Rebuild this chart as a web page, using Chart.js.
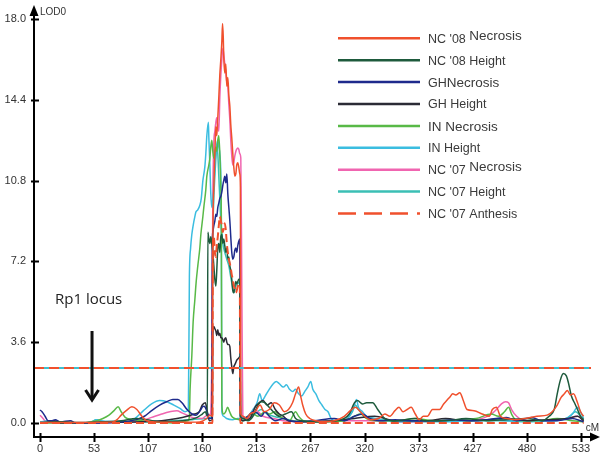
<!DOCTYPE html>
<html><head><meta charset="utf-8">
<script src="https://cdn.jsdelivr.net/npm/chart.js@4"></script>
<style>html,body{margin:0;padding:0;background:#fff}canvas{display:block}</style>
</head><body>
<canvas id="c" width="600" height="468"></canvas>
<script>
// ---- tick labels ----
const xTickValues = [0,53.34,106.68,160.02,213.36,266.7,320.04,373.38,426.72,480.06,533.4];
const xTickLabels = ['0','53','107','160','213','267','320','373','427','480','533'];
const yTickValues = [0,3.6,7.2,10.8,14.4,18];
const yTickLabels = ['0.0','3.6','7.2','10.8','14.4','18.0'];

// ---- series labels / colours ----
const seriesLabels = ["NC '08 Necrosis","NC '08 Height","GHNecrosis","GH Height","IN Necrosis","IN Height","NC '07 Necrosis","NC '07 Height","NC '07 Anthesis"];
const seriesColors = ['#f0502d','#1e5a3c','#1e2a8c','#2b2b35','#58b947','#3bbde0','#f065b0','#3bbfb5','#f0502d'];

// ---- series values: [cM, LOD] ----
const nc08Necrosis = [[0,0.02],[30,0.02],[60,0.03],[72,0.05],[76,0.15],[80,0.35],[85,0.55],[90.6,0.72],[95.5,0.6],[100.5,0.3],[105,0.1],[113,0.05],[140,0.03],[157.6,0.05],[164.5,0.2],[167.5,0.35],[170,0.3],[170.4,7.8],[171.4,10.5],[172.4,12.0],[173.4,13.2],[174.3,12.8],[175.3,13.6],[176.3,14.5],[177.3,15.5],[178.3,16.2],[179.3,17.0],[180.0,17.8],[180.7,17.2],[181.2,16.3],[182.2,15.6],[183.2,16.0],[184.2,15.0],[185.2,15.4],[186.2,14.6],[187.2,14.1],[188.1,13.3],[189.1,12.7],[190.1,12.0],[191.1,11.4],[192.1,11.0],[193.1,11.1],[194,11.5],[195,11.6],[196,11.4],[197,11.1],[197.6,10.5],[198,0.4],[200,0.3],[204,0.2],[207,0.4],[212,0.5],[217,0.8],[221,0.5],[226,0.6],[231,0.9],[236,0.8],[241,0.5],[245,0.6],[249,0.9],[252,1.3],[255,1.6],[257,1.2],[259,0.8],[262,0.4],[266,0.2],[272,0.1],[280,0.05],[290,0.1],[300,0.3],[306,0.55],[311,0.7],[316,0.5],[320,0.3],[326,0.15],[334,0.2],[340,0.4],[345,0.3],[350,0.55],[354,0.7],[358,0.5],[362,0.6],[366,0.7],[370,0.4],[374,0.15],[378,0.3],[382,0.3],[387,0.6],[394,0.6],[398,0.85],[401,1.0],[404,1.15],[407,1.3],[410,1.25],[414,1.35],[417,1.05],[421,0.6],[428,0.55],[436,0.4],[443,0.3],[446,0.6],[450,0.7],[454,0.3],[460,0.2],[468,0.15],[478,0.2],[490,0.3],[500,0.35],[505,0.5],[510,0.8],[514,1.15],[517,1.3],[520,1.45],[523,1.25],[526,1.3],[530,0.9],[533,0.5],[536,0.3]];
const nc08Height = [[0,0.02],[20,0.05],[40,0.02],[60,0.05],[80,0.1],[95,0.2],[105,0.15],[120,0.05],[140,0.1],[155,0.25],[160,0.4],[163,0.5],[165,0.3],[165.5,8.5],[166.5,8.2],[167.5,8.0],[168.4,8.3],[169.4,8.0],[170.4,7.6],[171.4,7.0],[172.4,6.4],[173.4,6.1],[174.3,6.8],[175.3,7.8],[176.3,8.0],[177.3,7.6],[178.3,8.3],[179.3,8.4],[180.3,8.0],[181.2,8.2],[182.2,7.9],[183.2,7.6],[184.2,7.8],[185.2,7.3],[186.2,7.4],[187.2,7.0],[188.1,6.8],[189.1,6.4],[190.1,5.9],[191.1,5.8],[192.1,6.1],[193.1,6.3],[194,6.2],[195,6.3],[196,6.4],[197,6.4],[197.6,0.3],[200,0.2],[205,0.1],[210,0.3],[215,0.8],[218,0.95],[222,0.9],[226,0.7],[230,0.5],[236,0.3],[242,0.4],[248,0.5],[252,0.2],[258,0.1],[270,0.05],[290,0.1],[300,0.2],[305,0.4],[310,0.9],[313,1.0],[318,0.85],[322,0.9],[328,0.9],[333,0.6],[340,0.2],[350,0.1],[370,0.2],[380,0.1],[400,0.1],[420,0.2],[440,0.1],[460,0.15],[480,0.2],[495,0.1],[502,0.3],[507,0.6],[510,1.3],[513,1.9],[516,2.2],[519,2.1],[521,1.8],[524,1.2],[527,0.9],[530,0.6],[533,0.3],[536,0.15]];
const ghNecrosis = [[0,0.58],[2,0.5],[5,0.3],[8,0.1],[12,0.1],[15,0.15],[20,0.05],[30,0.1],[35,0.0],[60,0.0],[80,0.05],[95,0.15],[103,0.3],[110,0.55],[118,0.8],[125,0.95],[131,1.05],[136,1.05],[140,0.9],[145,0.6],[150,0.4],[154,0.35],[158,0.55],[161,0.75],[163,0.7],[165,0.45],[167,0.2],[169.4,0.2],[169.9,8.0],[170.4,8.5],[171.4,8.8],[172.4,9.0],[173.4,9.3],[174.3,9.2],[175.3,9.6],[176.3,9.8],[177.3,10.0],[178.3,10.1],[179.3,10.3],[180.3,10.6],[181.2,10.8],[182.2,11.0],[183.2,10.7],[184.2,11.1],[185.2,10.2],[186.2,9.6],[187.2,9.0],[188.1,8.3],[189.1,7.6],[190.1,7.3],[191.1,7.4],[192.1,7.7],[193.1,7.8],[194,7.6],[195,7.9],[196,8.1],[197,8.2],[197.6,0.3],[200,0.2],[205,0.3],[210,0.5],[214,0.45],[218,0.3],[222,0.5],[226,0.3],[232,0.1],[240,0.2],[246,0.1],[255,0.05],[270,0.1],[290,0.2],[300,0.1],[310,0.3],[318,0.4],[325,0.2],[335,0.1],[350,0.15],[370,0.1],[390,0.1],[410,0.15],[430,0.1],[450,0.2],[460,0.25],[470,0.1],[485,0.25],[495,0.1],[510,0.1],[525,0.2],[533,0.1],[536,0.05]];
const ghHeight = [[0,0.0],[10,0.05],[14,0.1],[20,0.0],[60,0.02],[100,0.05],[120,0.1],[135,0.2],[145,0.3],[152,0.4],[157,0.5],[160,0.8],[163,0.9],[165,0.5],[167,0.1],[169.9,0.15],[170.4,3.9],[171.4,4.3],[172.4,4.2],[173.4,4.1],[174.3,3.9],[175.3,4.15],[176.3,3.9],[177.3,4.0],[178.3,3.8],[179.3,3.8],[180.3,3.7],[181.2,3.6],[182.2,3.75],[183.2,3.8],[184.2,3.6],[185.2,3.5],[186.2,3.5],[187.2,3.4],[188.1,2.9],[189.1,2.5],[190.1,2.2],[191.1,2.5],[192.1,2.6],[193.1,2.7],[194,2.8],[195,2.85],[196,2.9],[197,2.95],[197.8,0.2],[200,0.1],[207,0.2],[212,0.7],[216,0.9],[220,1.0],[224,0.8],[228,0.9],[232,0.6],[236,0.4],[240,0.3],[245,0.1],[260,0.05],[290,0.1],[310,0.2],[330,0.3],[350,0.1],[380,0.1],[400,0.2],[420,0.1],[460,0.2],[480,0.1],[500,0.15],[520,0.2],[530,0.3],[536,0.1]];
const inNecrosis = [[0,0.0],[40,0.0],[50,0.05],[56,0.1],[62,0.2],[68,0.35],[73,0.55],[77,0.72],[80,0.5],[84,0.25],[90,0.15],[100,0.1],[110,0.05],[130,0.0],[146,0.1],[147.3,0.3],[148,1.5],[149.7,3.0],[151,4.5],[152.7,5.5],[154,6.3],[155.6,7.0],[157.6,7.8],[158.6,8.4],[160.6,9.2],[161.5,9.6],[163.5,10.4],[164.5,11.0],[166.5,11.5],[167.5,11.8],[168.4,12.3],[169.4,12.6],[170.4,12.1],[171.4,11.8],[172.4,12.0],[173.4,12.3],[174.3,12.1],[175.3,12.6],[176.3,12.8],[177.3,12.0],[178.3,10.5],[178.8,9.0],[179.3,0.8],[181,0.4],[183,0.5],[185,0.7],[187,0.5],[189,0.3],[192,0.2],[196,0.15],[200,0.1],[205,0.3],[210,0.4],[215,0.3],[222,0.5],[226,0.4],[232,0.5],[236,0.3],[240,0.2],[246,0.1],[252,0.5],[255,0.3],[260,0.1],[280,0.05],[300,0.1],[310,0.3],[316,0.4],[322,0.2],[330,0.1],[350,0.1],[370,0.2],[390,0.1],[410,0.15],[430,0.2],[445,0.4],[452,0.3],[458,0.5],[462,0.7],[465,0.4],[470,0.1],[490,0.1],[510,0.2],[525,0.1],[536,0.05]];
const inHeight = [[0,0.05],[10,0.1],[20,0.05],[40,0.0],[52,0.05],[55,0.15],[60,0.1],[80,0.05],[88,0.05],[95,0.25],[102,0.55],[110,0.85],[118,1.0],[125,0.95],[132,0.8],[138,0.65],[143,0.5],[146.3,0.6],[147.3,6.5],[148.5,7.8],[149.7,8.4],[151,8.8],[152.7,9.2],[153.7,9.4],[155.6,9.5],[157.6,9.7],[159,10.0],[160.6,10.8],[162.5,11.4],[163.5,12.0],[164.5,12.8],[166,13.4],[166.5,12.7],[167.5,11.5],[168.4,10.2],[169.4,9.6],[170.4,10.0],[171.4,10.5],[172.4,11.5],[173.4,12.0],[174.3,12.4],[175.3,12.6],[176.3,12.3],[177.3,12.0],[178.3,11.0],[178.8,9.0],[179.3,0.5],[181,0.3],[184,0.2],[190,0.15],[195,0.2],[200,0.2],[205,0.3],[210,0.6],[214,0.9],[216.7,1.3],[219,1.0],[222,1.2],[226,1.5],[230,1.75],[233,1.85],[236,1.75],[240,1.6],[243,1.7],[246,1.5],[249,1.4],[252,1.5],[255,1.3],[258,1.2],[261,1.4],[264,1.6],[267,1.85],[269,1.5],[272,1.3],[275,1.0],[278,0.8],[281,0.6],[284,0.5],[287,0.2],[292,0.1],[300,0.1],[305,0.3],[310,0.8],[312,1.05],[314,0.7],[318,0.5],[322,0.3],[330,0.2],[340,0.1],[360,0.05],[380,0.1],[400,0.05],[420,0.1],[440,0.15],[460,0.1],[480,0.05],[500,0.1],[515,0.15],[525,0.4],[530,0.7],[533,0.5],[536,0.2]];
const nc07Necrosis = [[0,0.35],[3,0.2],[6,0.05],[20,0.0],[60,0.0],[90,0.05],[100,0.1],[110,0.25],[120,0.4],[128,0.5],[135,0.55],[140,0.45],[145,0.35],[150,0.25],[160,0.2],[165,0.35],[168,0.4],[169.4,3.0],[170.4,10.0],[171.4,12.5],[172.4,13.0],[173.4,13.4],[174.3,13.6],[175.3,13.2],[176.3,13.0],[177.3,14.5],[178.3,15.5],[179.3,16.2],[180.3,16.7],[181.2,16.4],[182.2,16.0],[183.2,15.6],[184.2,15.2],[185.2,15.0],[186.2,14.2],[187.2,13.5],[188.1,12.6],[189.1,11.9],[190.1,11.5],[191.1,11.6],[192.1,11.9],[193.1,12.1],[194,12.2],[195,12.25],[196,12.2],[197,12.0],[198,11.8],[199,6.0],[200,0.3],[202,0.2],[208,0.3],[212,0.6],[215,0.5],[220,0.3],[230,0.2],[240,0.1],[260,0.05],[300,0.1],[330,0.1],[360,0.05],[400,0.1],[430,0.15],[445,0.4],[450,0.6],[455,0.85],[459,0.95],[462,0.9],[465,0.6],[470,0.3],[480,0.1],[500,0.1],[520,0.2],[530,0.3],[536,0.1]];
const nc07Height = [[0,0.0],[8,0.1],[12,0.05],[40,0.0],[50,0.05],[56,0.15],[62,0.05],[100,0.05],[130,0.1],[150,0.15],[165,0.2],[169.4,0.3],[170.4,8.0],[171.4,10.0],[172.4,11.0],[173.4,11.8],[174.3,12.3],[175.3,12.0],[176.3,11.0],[177.3,10.0],[178.3,9.0],[179.3,8.5],[180.3,8.0],[182.2,7.6],[184.2,7.3],[186.2,7.0],[188.1,6.5],[190.1,6.0],[191.1,5.8],[192.1,5.9],[193.1,6.1],[195,6.2],[197,6.3],[198,0.3],[200,0.1],[205,0.2],[212,0.4],[218,0.6],[224,0.4],[230,0.3],[240,0.2],[250,0.1],[270,0.05],[300,0.1],[308,0.5],[311,0.8],[314,0.6],[320,0.3],[330,0.2],[350,0.1],[380,0.05],[420,0.1],[460,0.1],[500,0.1],[520,0.2],[528,0.5],[533,0.3],[536,0.1]];
const nc07Anthesis = [[0,0],[170,0],[170.4,7.8],[171.4,8.3],[172.4,7.6],[173.4,7.4],[174.3,7.9],[175.3,8.3],[176.3,8.8],[177.3,9.2],[178.3,9.0],[179.3,8.8],[180.3,8.5],[181.2,8.7],[182.2,8.9],[183.2,8.6],[184.2,8.0],[185.2,7.6],[186.2,7.3],[187.2,7.1],[188.1,6.9],[189.1,6.6],[190.1,6.4],[191.1,6.1],[192.1,6.0],[193.1,5.8],[194,5.9],[195,6.1],[196,6.2],[197,6.2],[197.5,0],[536,0]];

// ---- threshold & annotation ----
const thresholdLOD = 2.45;
const thresholdSpan = [-5.92, 543.3];
const rp1Label = 'Rp1 locus';
const rp1TextPos = [14.8, 5.48];   // cM, LOD
const rp1ArrowCM = 51.3;
const rp1ArrowLOD = [4.1, 0.98];   // top, tip

const allSeries = [nc08Necrosis,nc08Height,ghNecrosis,ghHeight,inNecrosis,inHeight,nc07Necrosis,nc07Height,nc07Anthesis];

const datasets = allSeries.map((s,i)=>({
  label: seriesLabels[i],
  data: s.map(p=>({x:p[0],y:p[1]})),
  borderColor: seriesColors[i],
  borderWidth: i===8 ? 2 : 1.5,
  borderDash: i===8 ? [8,4] : undefined,
  pointRadius: 0,
  fill: false,
  cubicInterpolationMode: 'monotone',
  order: i===8 ? -0.5 : 0
}));
datasets.push({label:'thr-under', noLegend:true, data: thresholdSpan.map(x=>({x, y:thresholdLOD})), borderColor:'#3cc0d0', borderWidth:2, pointRadius:0, order:-1});
datasets.push({label:'thr', noLegend:true, data: thresholdSpan.map(x=>({x, y:thresholdLOD})), borderColor:'#f0502d', borderWidth:2, borderDash:[10,5], pointRadius:0, order:-2});

const tickFont = {family:'"Liberation Sans", Arial, sans-serif', size:11};

const decor = {
  id:'decor',
  afterDraw(chart){
    const {ctx, chartArea:ca, scales:{x,y}} = chart;
    ctx.save();
    ctx.strokeStyle='#000'; ctx.fillStyle='#000'; ctx.lineWidth=2;
    // axes
    ctx.beginPath();
    ctx.moveTo(ca.left, ca.bottom); ctx.lineTo(ca.left, ca.top);
    ctx.moveTo(ca.left-1, ca.bottom); ctx.lineTo(ca.right, ca.bottom);
    ctx.stroke();
    // arrows
    ctx.beginPath(); ctx.moveTo(ca.left, ca.top-10); ctx.lineTo(ca.left-4.5, ca.top+1); ctx.lineTo(ca.left+4.5, ca.top+1); ctx.closePath(); ctx.fill();
    ctx.beginPath(); ctx.moveTo(ca.right+9, ca.bottom); ctx.lineTo(ca.right-1, ca.bottom-4.5); ctx.lineTo(ca.right-1, ca.bottom+4.5); ctx.closePath(); ctx.fill();
    // tick marks
    ctx.lineWidth=2;
    ctx.beginPath();
    yTickValues.forEach(v=>{const py=Math.round(y.getPixelForValue(v))+0.5; ctx.moveTo(ca.left-3,py); ctx.lineTo(ca.left+5,py);});
    xTickValues.forEach(v=>{const px=Math.round(x.getPixelForValue(v))+0.5; ctx.moveTo(px,ca.bottom-4); ctx.lineTo(px,ca.bottom+5);});
    ctx.stroke();
    // axis titles
    ctx.font='10px "Liberation Sans", Arial, sans-serif'; ctx.fillStyle='#333';
    ctx.textBaseline='middle'; ctx.textAlign='left';
    ctx.fillText('LOD0', ca.left+6, ca.top-3);
    ctx.textAlign='right';
    ctx.fillText('cM', ca.right+8, ca.bottom-9);
    // Rp1 annotation
    ctx.fillStyle='#222'; ctx.textAlign='left';
    ctx.font='15px "Open Sans", sans-serif';
    ctx.fillText(rp1Label, x.getPixelForValue(rp1TextPos[0]), y.getPixelForValue(rp1TextPos[1]));
    const ax = x.getPixelForValue(rp1ArrowCM);
    const ayTop = y.getPixelForValue(rp1ArrowLOD[0]);
    const ayTip = y.getPixelForValue(rp1ArrowLOD[1]);
    ctx.strokeStyle='#111'; ctx.lineWidth=3; ctx.lineCap='butt';
    ctx.beginPath(); ctx.moveTo(ax, ayTop); ctx.lineTo(ax, ayTip-2); ctx.stroke();
    ctx.lineJoin='miter';
    ctx.beginPath(); ctx.moveTo(ax-6.5, ayTip-11); ctx.lineTo(ax, ayTip-1); ctx.lineTo(ax+6.5, ayTip-11); ctx.stroke();
    // legend
    const x0 = ca.left+304, x1 = ca.left+386, tx = ca.left+394;
    let yy = ca.top+23.3;
    chart.data.datasets.forEach(ds=>{
      if (ds.noLegend) return;
      ctx.strokeStyle = ds.borderColor; ctx.lineWidth = 2.5;
      ctx.beginPath();
      if (ds.borderDash) {
        ctx.setLineDash([18,8]); ctx.moveTo(x0,yy); ctx.lineTo(x1-12,yy); ctx.stroke(); ctx.setLineDash([]);
        ctx.beginPath(); ctx.moveTo(x1-3,yy); ctx.lineTo(x1,yy); ctx.stroke();
      } else { ctx.moveTo(x0,yy); ctx.lineTo(x1,yy); ctx.stroke(); }
      ctx.fillStyle='#3a3a3a'; ctx.textAlign='left'; ctx.textBaseline='middle';
      const lbl = ds.label; const k = lbl.indexOf('Necrosis');
      const small = '12.5px "Liberation Sans", Arial, sans-serif';
      const big = '13.5px "Liberation Sans", Arial, sans-serif';
      if (k > 0) {
        const pre = lbl.slice(0,k);
        const raise = lbl.startsWith('NC') ? 3 : 0;
        ctx.font = lbl.startsWith('IN') ? big : small;
        ctx.fillText(pre, tx, yy+1);
        const w = ctx.measureText(pre).width;
        ctx.font = big;
        ctx.fillText('Necrosis', tx+w, yy+1-raise);
      } else {
        ctx.font = small;
        ctx.fillText(lbl, tx, yy+1);
      }
      yy += 21.9;
    });
    ctx.restore();
  }
};

new Chart(document.getElementById('c'), {
  type:'line',
  data:{datasets},
  options:{
    responsive:false, animation:false, devicePixelRatio:1,
    layout:{padding:{left:0,right:9,top:15,bottom:0}},
    plugins:{legend:{display:false}, tooltip:{enabled:false}},
    scales:{
      x:{type:'linear', min:-5.92, max:543.3,
        grid:{display:false, drawTicks:false}, border:{display:false},
        afterBuildTicks:s=>{s.ticks = xTickValues.map(v=>({value:v}));},
        afterFit:s=>{s.height=31;},
        ticks:{padding:5, autoSkip:false, maxRotation:0, color:'#333', font:tickFont,
          callback:(v,i)=>xTickLabels[i]}},
      y:{type:'linear', min:-0.624, max:18.18,
        grid:{display:false, drawTicks:false}, border:{display:false},
        afterBuildTicks:s=>{s.ticks = yTickValues.map(v=>({value:v}));},
        afterFit:s=>{s.width=34;},
        ticks:{padding:8, color:'#333', font:tickFont,
          callback:(v,i)=>yTickLabels[i]}}
    }
  },
  plugins:[decor]
});
</script>
</body></html>
